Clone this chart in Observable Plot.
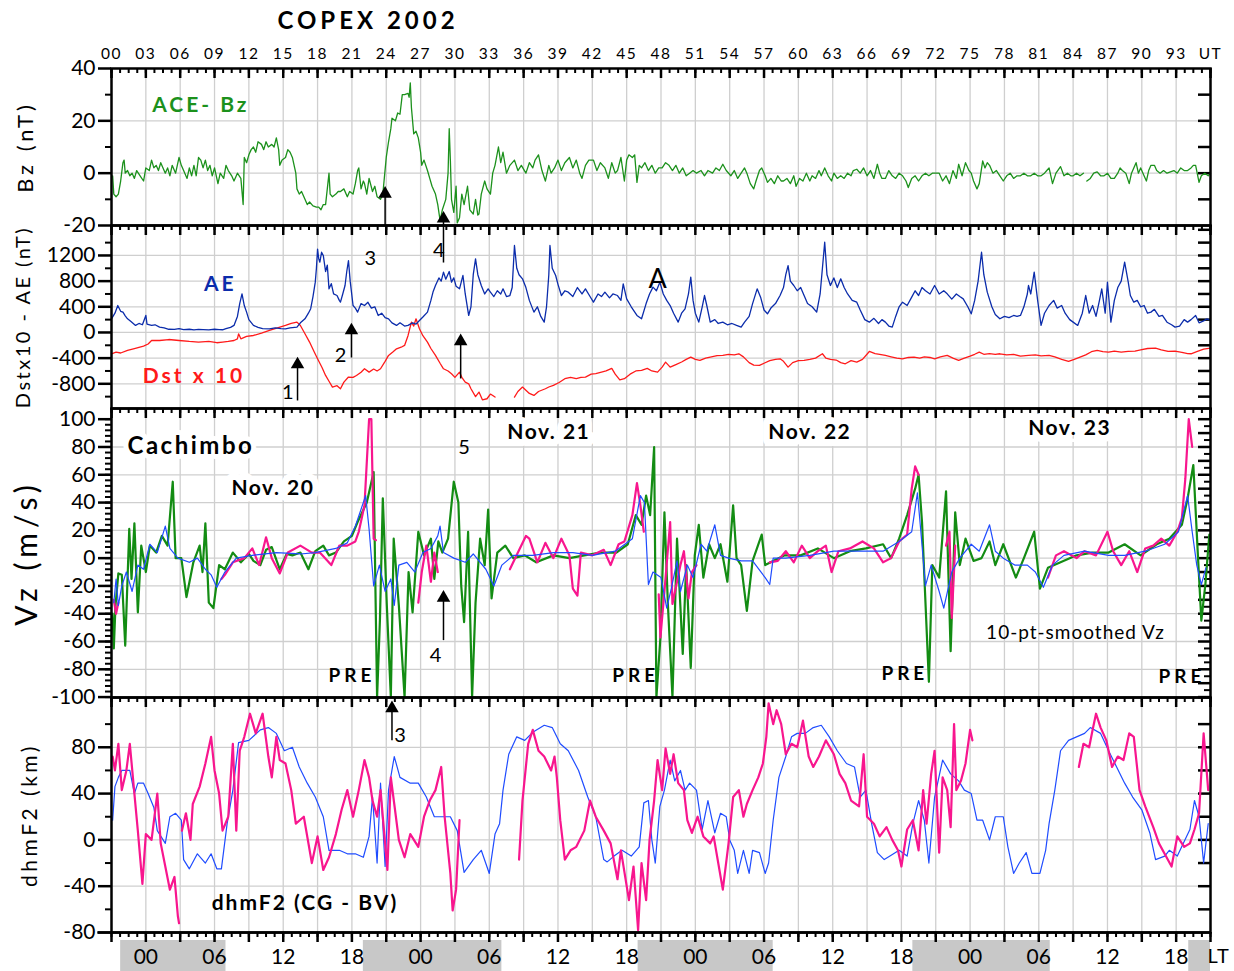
<!DOCTYPE html>
<html><head><meta charset="utf-8">
<script src="https://cdn.jsdelivr.net/npm/d3@7"></script>
<script src="https://cdn.jsdelivr.net/npm/@observablehq/plot@0.6"></script>
<style>
body{margin:0;background:#fff;font-family:Lato,sans-serif}
#wrap{position:relative;width:1234px;height:971px;overflow:hidden;background:#fff}
#title{position:absolute;left:0;top:5px;width:736px;text-align:center;font-weight:bold;font-size:24px;letter-spacing:4px;font-family:Lato,sans-serif}
</style></head><body><div id="wrap"><div id="title">COPEX 2002</div></div>
<script>
// ---------------- DATA (UT hours, value) ----------------
const bz = [[0.1,-1],[0.2,-8],[0.4,-9],[0.6,-8],[0.8,-3],[1.0,4],[1.1,5],[1.2,0],[1.4,1],[1.6,-1],[1.8,0],[2.0,-2],[2.2,1],[2.5,-1],[2.8,-3],[3.0,2],[3.3,1],[3.5,5],[3.7,2],[3.9,3],[4.1,1],[4.3,4],[4.5,2],[4.7,0],[4.9,2],[5.1,-1],[5.3,3],[5.6,0],[5.9,6],[6.1,3],[6.3,1],[6.6,-2],[6.8,2],[7.0,-1],[7.2,3],[7.4,-1],[7.6,6],[7.8,5],[8.0,2],[8.2,5],[8.4,1],[8.6,3],[8.8,-1],[9.0,2],[9.3,-4],[9.5,0],[9.8,-2],[10.0,3],[10.2,1],[10.5,-1],[10.7,-3],[11.0,0],[11.3,-2],[11.5,-12],[11.6,6],[11.8,4],[12.0,7],[12.2,9],[12.4,10],[12.6,8],[12.8,12],[13.1,11],[13.3,9],[13.5,12],[13.7,10],[14.0,11],[14.2,10],[14.4,13.5],[14.6,9],[14.7,3],[14.9,5],[15.2,6],[15.4,9],[15.6,8],[15.8,6],[16.0,2],[16.1,0],[16.2,-6],[16.4,-8],[16.6,-7],[16.9,-10],[17.1,-12],[17.3,-11],[17.6,-12.5],[17.9,-13],[18.1,-13],[18.3,-14],[18.5,-12],[18.7,-12],[18.9,-4],[19.0,0],[19.1,-8],[19.3,-9],[19.6,-8],[19.8,-7],[20.0,-7],[20.3,-6],[20.6,-9],[20.8,-7],[21.1,-8],[21.3,-4],[21.5,1],[21.6,2],[21.8,-6],[22.0,-3],[22.1,-4],[22.3,-8],[22.5,-2],[22.8,-7],[23.0,-5],[23.2,-9],[23.5,-10],[23.7,-8],[24.0,6],[24.2,12],[24.4,17],[24.5,21],[24.8,20],[25.0,23],[25.2,22.5],[25.4,30],[25.6,30],[25.9,30.5],[26.0,29],[26.1,34.5],[26.2,25],[26.4,15],[26.6,16],[26.8,13.5],[27.0,8],[27.1,3],[27.3,5],[27.6,1],[27.8,-2],[28.0,-5],[28.3,-8],[28.5,-12],[28.7,-18],[28.9,-14],[29.2,-10],[29.4,0],[29.5,17],[29.6,5],[29.7,-10],[29.9,-15],[30.1,-5],[30.2,-19],[30.4,-17],[30.6,-8],[30.8,-12],[31.1,-5],[31.3,-14],[31.6,-15.6],[31.8,-10],[32.0,-16],[32.1,-15.6],[32.3,-8],[32.6,-3],[32.8,-6],[33.1,-8],[33.3,0],[33.5,3],[33.8,10],[34.0,4],[34.2,8],[34.5,0],[34.8,3],[35.2,5],[35.5,1],[35.8,3],[36.2,0],[36.5,4],[36.8,2],[37.0,5],[37.3,7],[37.6,1],[37.9,-3],[38.2,3],[38.4,0],[38.7,2],[39.0,5],[39.3,1],[39.6,4],[40.0,6],[40.3,2],[40.6,5],[40.9,0],[41.1,-2],[41.4,3],[41.7,5],[42.1,5],[42.4,1],[42.7,4],[43.1,2],[43.4,-2],[43.7,4],[44.0,0],[44.2,1],[44.5,6],[44.8,-3],[45.0,5],[45.2,7],[45.5,6],[45.7,7],[45.9,-3.5],[46.1,3],[46.3,2],[46.6,4],[46.9,1],[47.2,3],[47.5,0],[47.8,2],[48.1,2],[48.4,4],[48.7,3],[49.0,1],[49.3,3],[49.6,0],[49.9,2],[50.2,-1],[50.5,0],[50.8,1],[51.1,0],[51.5,1],[51.8,-1],[52.1,1],[52.5,0],[52.8,2],[53.1,1],[53.4,3.4],[53.7,1],[54.1,-1],[54.4,1],[54.7,-2],[55.0,0],[55.3,2],[55.5,0],[55.8,-4],[56.1,-6],[56.3,-3],[56.6,1],[56.8,2],[57.1,-1],[57.3,-3.5],[57.6,-2],[57.9,-4],[58.2,-1],[58.5,-3],[58.7,-3],[59.0,-2],[59.3,-4],[59.6,-1],[59.8,-5],[60.1,-2],[60.4,-3],[60.7,0],[61.0,-3],[61.2,-1],[61.5,-2],[61.8,1],[62.0,-1],[62.3,2],[62.6,-1],[62.9,-3],[63.1,0],[63.4,-2],[63.7,-1],[64.0,-2],[64.3,0],[64.6,-1],[64.8,1],[65.1,1.5],[65.4,0],[65.7,2],[66.0,-1],[66.3,1],[66.6,-2],[66.9,3.4],[67.1,0],[67.3,-2],[67.6,-2],[67.9,1],[68.2,-1],[68.5,-2],[68.8,0],[69.1,-1],[69.4,-3],[69.6,-5.5],[69.9,-2],[70.2,-1],[70.5,-3],[70.8,-1],[71.1,0],[71.4,-1],[71.7,0],[72.0,0],[72.3,0],[72.6,-3],[72.9,-1],[73.2,-4],[73.5,1],[73.8,-2],[74.0,3.4],[74.3,-1],[74.6,4],[74.9,1],[75.1,0],[75.3,-3],[75.6,-6],[75.8,-4],[76.1,4.7],[76.3,2],[76.5,4],[76.7,3],[77.0,0],[77.3,1],[77.6,-1],[77.9,-3],[78.2,-1],[78.5,0],[78.8,-2],[79.1,-1],[79.4,-1],[79.7,0],[80.0,-1],[80.3,-1],[80.6,0],[80.9,-1],[81.2,-1],[81.5,0],[81.7,1],[81.9,2],[82.2,-4],[82.5,0],[82.9,2.5],[83.2,-1],[83.5,0],[83.8,-1],[84.0,-1],[84.3,0],[84.6,-1],[84.9,0],[85.0,null],[85.2,-3],[85.5,-2],[85.8,0],[86.1,0.5],[86.4,-1],[86.7,-1],[87.0,0],[87.3,-2],[87.6,-2],[87.9,0],[88.1,2],[88.3,1],[88.6,0],[88.9,-4],[89.1,0],[89.3,2],[89.5,4],[89.7,0],[89.9,2],[90.1,0],[90.4,-3],[90.6,1],[90.8,3],[91.1,3],[91.3,1],[91.6,0],[91.9,1],[92.2,0],[92.5,0.5],[92.8,1],[93.1,0],[93.4,2],[93.7,1],[94.0,1],[94.3,2],[94.5,3],[94.7,3],[95.0,-3.5],[95.2,-1],[95.5,0],[95.8,-1],[96.0,0]];

const ae = [[0.0,213],[0.3,300],[0.55,420],[0.8,330],[1.0,317],[1.2,260],[1.4,213],[1.7,170],[2.1,110],[2.4,140],[2.7,120],[3.0,265],[3.1,130],[3.5,110],[3.8,120],[4.2,83],[4.6,70],[5.0,50],[5.5,47],[5.9,60],[6.3,45],[6.8,50],[7.2,40],[7.6,47],[8.0,45],[8.5,40],[9.0,50],[9.4,45],[9.7,42],[10.0,60],[10.4,80],[10.7,110],[11.0,250],[11.2,450],[11.4,600],[11.6,420],[11.8,317],[12.0,200],[12.4,110],[12.8,80],[13.2,60],[13.8,57],[14.3,70],[14.8,60],[15.2,57],[15.6,70],[16.0,80],[16.2,83],[16.5,150],[16.9,213],[17.2,300],[17.4,370],[17.6,560],[17.8,784],[17.9,1000],[18.0,1300],[18.1,1150],[18.2,1095],[18.35,1250],[18.5,1200],[18.7,950],[18.85,1050],[19.0,680],[19.2,760],[19.4,600],[19.7,576],[19.9,500],[20.0,472],[20.2,600],[20.4,732],[20.55,950],[20.7,1121],[20.85,800],[21.1,420],[21.3,380],[21.5,317],[21.8,450],[22.1,420],[22.4,470],[22.7,380],[23.0,400],[23.3,265],[23.6,300],[23.9,230],[24.2,213],[24.5,150],[24.9,110],[25.2,150],[25.6,100],[25.9,110],[26.3,150],[26.6,130],[26.9,187],[27.2,240],[27.6,317],[27.9,500],[28.1,640],[28.3,732],[28.6,850],[28.8,800],[29.0,940],[29.2,830],[29.5,950],[29.7,784],[29.9,850],[30.1,720],[30.4,680],[30.6,820],[30.7,888],[30.9,600],[31.2,265],[31.4,400],[31.6,900],[31.8,1147],[32.0,900],[32.3,732],[32.6,600],[32.9,680],[33.1,628],[33.4,560],[33.7,650],[34.0,600],[34.2,680],[34.5,560],[34.8,576],[35.0,700],[35.2,1355],[35.4,1000],[35.6,900],[35.9,836],[36.2,700],[36.5,500],[36.9,317],[37.2,400],[37.5,250],[37.8,161],[38.0,400],[38.2,900],[38.3,1355],[38.5,1000],[38.8,888],[39.0,750],[39.3,576],[39.6,650],[39.9,628],[40.3,560],[40.7,700],[41.1,600],[41.4,680],[41.8,560],[42.1,472],[42.5,600],[42.8,560],[43.1,628],[43.5,540],[43.8,600],[44.2,576],[44.5,500],[44.7,758],[45.0,524],[45.4,400],[45.9,265],[46.3,213],[46.7,450],[47.0,600],[47.3,706],[47.6,650],[47.9,784],[48.2,600],[48.5,500],[48.8,420],[49.1,300],[49.5,161],[49.8,300],[50.1,369],[50.4,600],[50.6,862],[50.8,500],[51.0,300],[51.3,161],[51.6,400],[51.8,576],[52.0,420],[52.3,161],[52.7,200],[53.0,140],[53.4,161],[53.8,120],[54.2,140],[54.6,110],[55.0,83],[55.3,160],[55.7,250],[56.0,450],[56.4,680],[56.7,550],[57.0,350],[57.3,291],[57.6,380],[58.0,450],[58.4,576],[58.7,700],[58.9,900],[59.1,1043],[59.3,800],[59.6,732],[59.9,650],[60.2,700],[60.5,576],[60.8,450],[61.2,400],[61.6,317],[61.9,600],[62.1,1000],[62.3,1406],[62.5,900],[62.8,732],[63.1,850],[63.4,700],[63.7,836],[64.0,700],[64.3,600],[64.7,500],[65.1,472],[65.4,350],[65.8,200],[66.2,161],[66.6,220],[67.0,140],[67.3,200],[67.6,161],[67.9,100],[68.2,83],[68.5,250],[68.8,400],[69.1,472],[69.5,420],[69.9,550],[70.2,650],[70.5,576],[70.8,700],[71.1,650],[71.5,600],[71.9,732],[72.3,600],[72.7,650],[73.0,602],[73.4,520],[73.8,600],[74.1,560],[74.4,524],[74.8,400],[75.1,291],[75.4,500],[75.7,800],[76.0,1250],[76.2,900],[76.5,628],[76.9,400],[77.2,280],[77.6,213],[78.0,250],[78.4,230],[78.8,265],[79.1,250],[79.4,265],[79.7,400],[80.0,600],[80.1,732],[80.3,600],[80.6,940],[80.9,500],[81.2,110],[81.5,300],[81.9,420],[82.3,500],[82.6,380],[83.0,420],[83.3,300],[83.7,200],[84.0,161],[84.4,110],[84.8,300],[85.1,576],[85.4,300],[85.7,420],[86.0,250],[86.3,500],[86.5,680],[86.8,300],[87.0,784],[87.3,161],[87.6,500],[87.9,700],[88.2,800],[88.5,1095],[88.8,800],[89.0,576],[89.3,472],[89.6,500],[89.9,400],[90.2,420],[90.5,300],[90.8,317],[91.1,360],[91.5,250],[91.8,265],[92.2,160],[92.6,120],[92.9,83],[93.3,100],[93.7,200],[94.0,161],[94.3,200],[94.7,265],[95.0,150],[95.4,180],[95.7,213],[96.0,187]];

const dstx10 = [[0.0,-332],[0.4,-306],[0.8,-320],[1.4,-280],[2.0,-250],[2.8,-213],[3.2,-180],[3.5,-125],[4.2,-125],[5.0,-110],[5.9,-125],[6.8,-140],[7.6,-150],[8.5,-140],[9.2,-160],[9.7,-150],[10.2,-140],[10.7,-125],[11.0,-100],[11.1,-21],[11.3,-99],[11.8,-60],[12.4,-47],[13.1,-10],[13.8,31],[14.5,70],[15.2,109],[15.7,140],[16.2,161],[16.5,109],[16.9,-20],[17.3,-150],[17.7,-300],[18.0,-410],[18.4,-550],[18.7,-670],[19.0,-760],[19.3,-851],[19.7,-830],[20.0,-877],[20.3,-774],[20.7,-695],[21.1,-700],[21.4,-670],[21.8,-620],[22.1,-566],[22.5,-618],[22.9,-570],[23.2,-600],[23.5,-566],[23.9,-450],[24.2,-358],[24.6,-300],[24.9,-254],[25.3,-230],[25.6,-202],[25.9,-50],[26.2,161],[26.4,100],[26.6,213],[26.9,57],[27.2,-50],[27.6,-150],[27.9,-250],[28.3,-358],[28.7,-480],[29.0,-566],[29.4,-600],[29.7,-644],[30.0,-700],[30.4,-618],[30.6,-700],[30.9,-774],[31.2,-800],[31.4,-877],[31.8,-1000],[32.1,-929],[32.4,-1050],[32.8,-1033],[33.1,-960],[33.5,-1007],[33.7,null],[35.2,-1007],[35.5,-920],[35.9,-851],[36.2,-900],[36.5,-950],[36.9,-981],[37.3,-920],[37.9,-877],[38.2,-850],[38.6,-825],[39.1,-780],[39.6,-721],[40.1,-700],[40.6,-720],[41.0,-700],[41.4,-695],[41.9,-650],[42.3,-640],[42.8,-618],[43.2,-600],[43.7,-560],[44.0,-650],[44.4,-740],[44.8,-721],[45.3,-650],[45.8,-600],[46.3,-592],[46.8,-560],[47.2,-600],[47.7,-618],[48.1,-540],[48.4,-462],[48.8,-540],[49.3,-500],[49.8,-460],[50.2,-420],[50.6,-384],[51.0,-420],[51.4,-436],[51.9,-400],[52.4,-380],[52.9,-360],[53.4,-358],[53.9,-340],[54.4,-350],[54.8,-332],[55.2,-380],[55.7,-470],[56.1,-510],[56.6,-514],[57.0,-480],[57.5,-440],[58.0,-420],[58.4,-410],[58.7,-450],[59.1,-540],[59.5,-470],[60.0,-440],[60.5,-436],[61.0,-420],[61.5,-400],[62.1,-332],[62.4,-400],[62.8,-420],[63.3,-430],[63.7,-470],[64.1,-488],[64.6,-440],[65.1,-462],[65.6,-420],[66.2,-296],[66.7,-330],[67.1,-340],[67.6,-358],[68.1,-380],[68.6,-400],[69.1,-410],[69.6,-390],[70.1,-384],[70.6,-400],[71.0,-380],[71.5,-390],[71.9,-410],[72.4,-380],[73.0,-358],[73.5,-400],[74.0,-436],[74.5,-400],[75.0,-370],[75.4,-340],[75.8,-306],[76.2,-340],[76.7,-330],[77.2,-340],[77.6,-332],[78.2,-350],[78.8,-340],[79.4,-370],[80.1,-358],[80.7,-350],[81.2,-365],[81.9,-358],[82.4,-380],[83.0,-420],[83.6,-452],[84.1,-420],[84.6,-384],[85.1,-350],[85.6,-300],[86.1,-280],[86.6,-300],[87.1,-306],[87.6,-290],[88.2,-306],[88.8,-296],[89.4,-290],[89.9,-270],[90.5,-250],[91.2,-244],[91.7,-270],[92.3,-296],[92.9,-290],[93.5,-310],[94.0,-330],[94.3,-332],[94.8,-300],[95.4,-260],[96.0,-244]];

const vzGreen = [[0.1,-40],[0.2,-65],[0.35,-34],[0.6,-11],[0.9,-12],[1.2,-63],[1.55,21],[1.75,-15],[2.0,25],[2.3,-39],[2.6,9],[3.0,-10],[3.35,9],[3.9,4],[4.4,16],[4.9,9],[5.35,55],[5.6,0],[6.1,0],[6.55,-28],[7.15,-3],[7.7,9],[7.95,-10],[8.2,25],[8.5,-32],[8.9,-36],[9.4,-5],[9.9,-8],[10.6,4],[11.3,-3],[12.0,3],[12.4,-2],[13.0,-5],[13.5,6],[14.0,8],[14.7,-8],[15.3,3],[15.8,2],[16.5,4],[17.2,-8],[17.8,5],[18.5,9],[19.0,2],[19.6,4],[20.3,12],[21.0,16],[21.5,26],[22.3,40],[22.9,62],[23.2,-100],[23.45,-44],[23.7,43],[24.05,-34],[24.4,-100],[24.65,14],[25.1,-34],[25.6,-100],[25.95,-10],[26.3,-39],[26.8,19],[27.3,2],[27.9,14],[28.2,-15],[28.55,12],[28.9,4],[29.4,14],[29.9,55],[30.3,40],[30.55,-20],[30.8,-46],[31.15,19],[31.5,-100],[31.8,-32],[32.2,14],[32.6,-5],[32.9,35],[33.2,-29],[33.7,4],[34.4,9],[35.1,0],[36.1,2],[37.1,-3],[38.6,2],[40.0,0],[41.3,2],[42.7,4],[44.1,4],[45.1,10],[45.8,31],[46.3,24],[46.7,45],[47.05,31],[47.4,80],[47.6,-100],[47.95,-57],[48.3,33],[48.6,-33],[49.0,-100],[49.4,14],[49.9,-69],[50.2,-5],[50.6,-79],[50.95,2],[51.3,24],[51.7,-14],[52.2,10],[52.7,0],[53.2,10],[53.8,-17],[54.3,38],[54.6,0],[55.0,-5],[55.5,-38],[56.0,-2],[56.8,17],[57.1,-5],[57.8,-2],[58.8,2],[60.2,2],[61.7,7],[63.1,0],[64.5,5],[65.9,7],[67.4,10],[68.1,0],[68.8,14],[69.5,31],[70.2,50],[70.5,60],[70.8,26],[71.4,-89],[71.7,-5],[72.3,-14],[72.9,48],[73.3,-67],[73.7,33],[74.1,-5],[74.6,14],[75.3,-2],[76.0,0],[76.7,12],[77.2,-5],[77.9,10],[79.0,-14],[79.7,0],[80.6,19],[81.1,-22],[81.8,-7],[82.9,-3],[84.3,2],[85.7,4],[87.1,4],[88.5,10],[89.9,2],[91.3,10],[92.4,14],[93.5,24],[94.0,43],[94.5,67],[94.9,2],[95.2,-45],[95.55,-19],[95.9,17]];

const vzPink = [[0.2,-30],[0.4,-40],[0.6,-32],[0.7,null],[9.6,-15],[9.9,-12],[10.6,-3],[11.6,0],[12.3,7],[12.9,-5],[13.5,15],[14.0,0],[14.7,-11],[15.4,4],[16.5,9],[17.5,4],[18.2,4],[19.2,-5],[19.9,9],[20.6,9],[21.3,12],[21.6,19],[22.1,38],[22.5,100],[22.7,100],[22.9,14],[23.1,13],[23.2,null],[26.8,-32],[27.1,-10],[27.5,9],[27.9,-17],[28.2,4],[28.5,-10],[28.7,null],[34.8,-8],[35.5,4],[36.2,16],[36.5,14],[37.2,-3],[37.9,11],[38.6,0],[39.3,14],[40.0,2],[40.3,-22],[40.7,-27],[41.0,4],[42.0,2],[43.0,6],[43.6,-5],[44.3,10],[44.8,12],[45.5,31],[45.9,54],[46.2,38],[46.5,19],[46.6,null],[47.8,-26],[47.95,-57],[48.3,-24],[48.8,26],[49.0,-33],[49.7,-5],[50.0,5],[50.4,-29],[50.7,-10],[51.1,-5],[51.2,null],[57.5,-3],[58.2,-2],[58.9,5],[59.6,-3],[60.3,9],[61.0,0],[61.7,5],[62.4,9],[62.9,-10],[63.5,5],[64.5,7],[65.6,12],[66.6,7],[67.4,-3],[68.1,0],[68.8,12],[69.5,17],[69.9,50],[70.2,66],[70.5,60],[70.6,null],[72.9,9],[73.2,19],[73.4,-43],[73.7,9],[73.8,null],[81.8,-14],[82.5,2],[83.2,5],[84.3,0],[85.0,5],[86.0,2],[87.0,19],[87.5,5],[88.2,-5],[88.9,5],[89.6,-10],[90.3,7],[91.0,9],[91.7,14],[92.4,9],[93.1,19],[93.5,29],[93.8,57],[94.1,100],[94.4,80]];

const vzSmooth = [[0.2,-32],[0.4,-15],[0.6,-34],[0.9,-20],[1.3,-10],[1.8,-24],[2.3,-5],[2.8,-8],[3.35,10],[4.0,4],[4.7,23],[5.1,7],[5.8,0],[6.8,-3],[7.5,0],[8.2,-8],[8.7,-12],[9.2,-21],[9.9,-10],[10.9,0],[12.3,2],[14.4,4],[16.5,3],[17.8,4],[19.6,7],[20.6,11],[21.3,23],[22.2,45],[22.5,21],[22.9,-20],[23.4,-5],[23.9,-24],[24.4,-15],[24.7,-34],[25.1,-5],[25.8,-3],[26.5,-10],[27.2,4],[27.9,7],[28.5,16],[28.7,23],[29.0,4],[29.9,0],[30.9,-3],[31.6,3],[32.7,-8],[33.4,-20],[34.1,-5],[35.1,2],[36.8,2],[38.6,4],[40.3,4],[42.0,2],[44.0,5],[45.5,14],[46.2,45],[46.55,40],[46.9,-19],[47.3,-10],[48.0,-14],[48.5,-36],[48.9,-22],[49.4,-2],[49.7,-24],[50.3,-5],[50.8,-14],[51.5,10],[52.0,5],[52.7,24],[53.2,2],[53.9,0],[55.0,-2],[56.0,-2],[57.1,-14],[57.5,-19],[57.8,0],[58.9,0],[61.0,2],[63.1,5],[65.2,5],[67.4,5],[68.8,12],[69.9,19],[70.4,47],[70.7,19],[71.1,-20],[71.6,-5],[72.3,-24],[72.7,-36],[73.4,-10],[74.1,0],[75.1,10],[75.8,5],[76.7,24],[77.2,5],[77.9,0],[78.9,-5],[80.0,-5],[80.7,-10],[81.4,-21],[82.2,-5],[83.2,2],[85.0,5],[87.1,2],[88.5,2],[90.3,5],[92.0,10],[93.2,19],[94.0,45],[94.4,19],[94.8,-5],[95.2,-19],[95.6,-7]];

const dhmBlue = [[0.1,17],[0.3,46],[0.6,54],[0.9,60],[1.6,60],[2.0,40],[2.3,49],[2.8,49],[3.2,40],[3.7,28],[4.0,8],[4.7,-3],[5.1,20],[5.6,23],[6.1,17],[6.3,-17],[6.8,-25],[7.5,-12],[8.2,-20],[8.7,-12],[9.2,-25],[9.6,-25],[10.1,14],[10.6,43],[11.1,84],[12.0,86],[13.0,95],[13.7,97],[14.4,92],[15.1,77],[15.8,80],[16.4,63],[17.1,49],[17.8,37],[18.5,20],[19.0,-9],[19.9,-9],[20.6,-12],[21.3,-12],[22.0,-15],[22.5,3],[22.8,37],[23.2,-20],[23.5,49],[23.9,-23],[24.2,43],[24.7,72],[25.2,54],[26.1,49],[26.8,49],[27.5,37],[28.2,20],[28.9,20],[29.6,20],[30.2,8],[30.8,-28],[31.6,-17],[32.3,-9],[33.0,-29],[33.5,5],[33.9,14],[34.2,43],[34.7,74],[35.4,89],[36.1,86],[36.8,93],[37.8,99],[38.5,97],[39.2,83],[39.9,77],[40.8,60],[41.6,37],[42.3,20],[43.0,-17],[43.3,-19],[43.9,-14],[44.6,-9],[45.4,-14],[46.1,-6],[46.5,32],[46.9,34],[47.2,0],[47.5,-20],[47.9,29],[48.3,43],[48.8,69],[49.2,51],[49.7,60],[50.1,43],[50.5,49],[51.1,43],[51.6,9],[52.1,34],[52.7,6],[53.2,23],[53.7,20],[54.0,0],[54.4,-9],[54.7,-29],[55.2,-9],[55.7,-29],[56.0,-9],[56.6,-11],[57.1,-29],[57.4,-20],[57.8,17],[58.3,54],[58.9,72],[59.4,89],[59.9,92],[60.6,92],[61.3,97],[62.0,99],[62.7,89],[63.4,77],[64.2,66],[64.9,63],[65.4,37],[65.9,43],[66.4,14],[66.9,-11],[67.5,-17],[68.0,-14],[68.8,-9],[69.5,-14],[70.0,14],[70.5,34],[71.0,17],[71.4,-20],[71.9,37],[72.6,69],[73.3,57],[74.0,51],[74.5,43],[75.1,40],[75.6,17],[76.1,17],[76.7,0],[77.2,20],[77.9,20],[78.3,-6],[78.8,-29],[79.3,-20],[79.9,-11],[80.4,-29],[81.1,-29],[81.6,-9],[81.9,14],[82.4,43],[82.9,77],[83.6,86],[84.3,89],[85.0,92],[85.5,97],[86.4,92],[87.1,77],[87.8,63],[88.5,49],[89.2,37],[90.0,26],[90.7,6],[91.2,-17],[92.0,-14],[92.4,-9],[93.1,-14],[94.2,9],[94.6,34],[95.0,20],[95.4,-20],[95.8,14]];

const dhmPink = [[0.1,72],[0.3,60],[0.6,83],[0.9,43],[1.3,60],[1.6,83],[2.0,40],[2.3,8],[2.7,-38],[3.0,5],[3.5,0],[4.0,40],[4.3,-3],[4.7,-23],[5.1,-43],[5.5,-32],[5.8,-66],[5.9,-72],[6.1,null],[6.15,8],[6.5,23],[6.9,0],[7.1,31],[7.7,46],[8.2,66],[8.7,89],[9.0,60],[9.4,40],[9.7,8],[10.2,20],[10.6,83],[10.9,8],[11.2,77],[11.6,89],[12.1,109],[12.6,92],[13.2,109],[13.7,72],[14.0,54],[14.4,89],[14.7,69],[15.2,66],[15.7,43],[16.1,14],[16.8,20],[17.5,-20],[18.0,3],[18.5,-26],[19.0,-15],[19.6,5],[20.1,26],[20.6,43],[21.1,20],[21.6,43],[22.1,69],[22.5,54],[22.8,34],[23.2,20],[23.5,43],[23.9,-3],[24.1,-26],[24.4,54],[24.7,31],[25.1,0],[25.6,-15],[26.1,5],[26.8,-6],[27.3,20],[27.8,34],[28.3,43],[28.8,63],[29.1,20],[29.6,-29],[29.8,-61],[30.1,-43],[30.4,17],[30.5,null],[35.6,-17],[35.9,34],[36.4,83],[36.8,95],[37.3,77],[37.8,72],[38.4,60],[38.7,72],[38.9,54],[39.2,17],[39.6,-17],[40.1,-9],[40.6,-6],[41.3,8],[41.8,34],[42.3,20],[43.0,8],[43.6,-3],[44.2,-34],[44.5,-9],[45.2,-52],[45.6,-23],[46.0,-78],[46.3,-20],[46.7,-52],[47.0,0],[47.4,34],[47.7,69],[48.1,43],[48.4,79],[48.8,57],[49.1,74],[49.5,49],[50.0,43],[50.3,17],[50.7,6],[51.2,20],[51.7,3],[52.3,-3],[52.6,3],[53.0,-20],[53.4,-43],[53.9,-3],[54.3,37],[54.8,43],[55.2,20],[55.5,31],[56.0,43],[56.5,54],[56.9,66],[57.2,89],[57.4,118],[57.8,100],[58.1,112],[58.5,100],[58.9,74],[59.4,83],[59.9,80],[60.4,103],[60.9,72],[61.3,63],[61.8,72],[62.4,86],[63.1,74],[63.6,57],[64.1,49],[64.6,34],[65.3,29],[65.7,74],[66.0,20],[66.6,14],[67.1,3],[67.7,11],[68.2,0],[68.7,-9],[69.0,-23],[69.5,9],[70.0,17],[70.5,-9],[70.9,43],[71.2,14],[71.6,57],[71.9,77],[72.3,-11],[72.6,54],[73.0,43],[73.3,11],[73.6,100],[73.8,43],[74.2,51],[74.6,66],[75.0,95],[75.2,86],[75.3,null],[84.5,63],[84.9,83],[85.4,80],[85.7,95],[86.0,109],[86.4,97],[86.9,86],[87.4,63],[87.9,72],[88.4,69],[88.9,92],[89.3,89],[89.8,43],[90.3,29],[91.0,11],[91.5,-3],[92.1,-14],[92.6,-23],[93.1,3],[93.7,-6],[94.2,-3],[94.6,9],[95.0,23],[95.4,92],[95.8,43]];

// night (gray) bands in UT hours
const nightStart = [0.8, 22, 46, 70, 94.1];
const nightEnd   = [10, 34.1, 57.8, 82, 96];

// tick labels
const utTicks = d3.range(0, 97, 3);              // 00 03 ... 93 UT
const utMinor = d3.range(0, 96.01, 0.75);
const ltLabelUT = d3.range(3, 96, 6);            // LT 00,06,12,18 at UT-3
const bzTicks = [-20, 0, 20, 40];
const aeTicks = [-800, -400, 0, 400, 800, 1200];
const vzTicks = [-100, -80, -60, -40, -20, 0, 20, 40, 60, 80, 100];
const dhmTicks = [-80, -40, 0, 40, 80];

// ---------------- helpers ----------------
const W = 1234, ML = 111, MR = 24, FW = W - ML - MR;
const wrap = document.getElementById("wrap");
const pad2 = d => String(d).padStart(2, "0");
const gridC = "#cfcfcf";
const toObj = arr => arr.map(([t, v]) => ({t, v}));

function place(svg, top) {
  svg.style.position = "absolute";
  svg.style.top = top + "px";
  svg.style.left = "0px";
  wrap.appendChild(svg);
  return svg;
}
function frameMarks(fh, yGrid, rightTicks, rightMinor) {
  return [
    Plot.gridX(utTicks.filter(d => d > 0 && d < 96), {stroke: gridC, strokeOpacity: 1, strokeWidth: 1.3}),
    Plot.gridY(yGrid, {stroke: gridC, strokeOpacity: 1, strokeWidth: 1.3}),
    Plot.tickX(utTicks, {x: d => d, insetBottom: fh - 10, strokeWidth: 2.5}),
    Plot.tickX(utMinor, {x: d => d, insetBottom: fh - 5, strokeWidth: 2}),
    Plot.tickY(rightTicks, {y: d => d, insetLeft: FW - 12, strokeWidth: 2.5}),
    Plot.tickY(rightMinor, {y: d => d, insetLeft: FW - 6, strokeWidth: 2})
  ];
}
function leftAxis(ticks, minor, fs = 21) {
  return [
    Plot.axisY(ticks, {anchor: "left", tickSize: 13, tickPadding: 3, strokeWidth: 2.5, fontSize: fs, tickFormat: d => String(d)}),
    Plot.axisY(minor, {anchor: "left", tickSize: 6, strokeWidth: 2, tickFormat: () => ""})
  ];
}
function arrowMarks(list) {
  return [
    Plot.link(list, {x1: "x", x2: "x", y1: "y1", y2: "y2", stroke: "black", strokeWidth: 1.5}),
    Plot.dot(list.filter(d => d.head !== false), {x: "x", y: "y2", symbol: "triangle", r: 5, fill: "black", stroke: null, dy: 5})
  ];
}
// rotated y-axis title, centred on the panel's frame
function yTitle(txt, off, fs) {
  return Plot.text([txt], {frameAnchor: "left", textAnchor: "middle", rotate: -90, dx: -off, fontSize: fs, fill: "black"});
}
const base = (mt, fh, mb, domain) => ({
  width: W, height: mt + fh + mb, marginLeft: ML, marginRight: MR, marginTop: mt, marginBottom: mb,
  style: {background: "transparent", overflow: "visible", fontFamily: "Lato, sans-serif", color: "black"},
  x: {domain: [0, 96], axis: null}, y: {domain, axis: null}
});

// ---------------- Panel 1: ACE Bz ----------------
{
  const fh = 157;
  const svg = Plot.plot({...base(68, fh, 0, [-20, 40]), marks: [
    ...frameMarks(fh, [0, 20], [-10, 0, 10, 20, 30], []),
    Plot.axisX(utTicks, {anchor: "top", tickSize: 0, tickPadding: 10, fontSize: 15.5, tickFormat: d => d === 96 ? "UT" : pad2(d)}),
    ...leftAxis(bzTicks, [-10, 10, 30]),
    Plot.line(toObj(bz), {x: "t", y: "v", stroke: "#1c911c", strokeWidth: 1.3}),
    Plot.text(["ACE- Bz"], {x: 7.8, y: 26, fontSize: 21, fontWeight: "bold", fill: "#1c911c"}),
    ...arrowMarks([{x: 23.9, y1: -20, y2: -6}, {x: 29.0, y1: -20, y2: -15.5}]),
    yTitle("Bz (nT)", 86, 22),
    Plot.frame({stroke: "black", strokeWidth: 2.5})
  ]});
  place(svg, 0);
}
// ---------------- Panel 2: AE and Dst x10 ----------------
{
  const fh = 183;
  const svg = Plot.plot({...base(5, fh, 0, [-1185, 1667]), marks: [
    ...frameMarks(fh, aeTicks, [-1000,-800,-600,-400,-200,0,200,400,600,800,1000,1200,1400,1600], []),
    ...leftAxis(aeTicks, [-1000, -600, -200, 200, 600, 1000, 1400]),
    Plot.line(toObj(dstx10), {x: "t", y: "v", stroke: "#ff1a1a", strokeWidth: 1.3}),
    Plot.line(toObj(ae), {x: "t", y: "v", stroke: "#0b2cab", strokeWidth: 1.3}),
    Plot.text(["AE"], {x: 9.5, y: 748, fontSize: 21, fontWeight: "bold", fill: "#0b2cab"}),
    Plot.text(["Dst x 10"], {x: 7.2, y: -690, fontSize: 21, fontWeight: "bold", fill: "#ff1a1a"}),
    Plot.text([{x: 22.6, y: 1150, s: "3"}, {x: 28.6, y: 1280, s: "4"}, {x: 15.4, y: -935, s: "1"}, {x: 20.0, y: -360, s: "2"}],
      {x: "x", y: "y", text: "s", fontSize: 20, fill: "black"}),
    Plot.text(["A"], {x: 47.7, y: 820, fontSize: 27, fill: "black"}),
    ...arrowMarks([{x: 16.25, y1: -1060, y2: -420}, {x: 20.96, y1: -390, y2: 110}, {x: 30.5, y1: -717, y2: -60}, {x: 29.0, y1: 1090, y2: 1667, head: false}]),
    yTitle("Dstx10 - AE (nT)", 88, 20),
    Plot.frame({stroke: "black", strokeWidth: 2.5})
  ]});
  place(svg, 220);
}
// ---------------- Panel 3: Vz ----------------
{
  const fh = 289;
  const vzR = d3.range(-100, 101, 10), vzR5 = d3.range(-95, 101, 10);
  const svg = Plot.plot({...base(8, fh, 0, [-100.3, 107.7]), marks: [
    ...frameMarks(fh, vzTicks.filter(d => d > -100 && d < 100), vzR, vzR5),
    ...leftAxis(vzTicks, d3.range(-100, 101, 4)),
    Plot.text(["Nov. 21", "Nov. 22", "Nov. 23"], {x: [38.2, 61.0, 83.7], y: [90.4, 90.4, 93.3], fontSize: 21, fontWeight: "bold", fill: "black", stroke: "white", strokeWidth: 14}),
    Plot.text(["Cachimbo"], {x: 1.4, y: 80.4, textAnchor: "start", fontSize: 24, fontWeight: "bold", fill: "black", stroke: "white", strokeWidth: 10}),
    Plot.text(["Nov. 20"], {x: 14.1, y: 50, fontSize: 21, fontWeight: "bold", fill: "black", stroke: "white", strokeWidth: 14}),
    Plot.line(toObj(vzGreen), {x: "t", y: "v", stroke: "#138c13", strokeWidth: 2.2, clip: true}),
    Plot.line(toObj(vzPink), {x: "t", y: "v", stroke: "#f8168e", strokeWidth: 2.2, clip: true}),
    Plot.line(toObj(vzSmooth), {x: "t", y: "v", stroke: "#1f4cff", strokeWidth: 1.2, clip: true}),
    Plot.text(["PRE", "PRE", "PRE", "PRE"], {x: [21.0, 45.8, 69.3, 93.5], y: [-85, -84.4, -83, -85.8], fontSize: 19, fontWeight: "bold", fill: "black"}),
    Plot.text(["10-pt-smoothed Vz"], {x: 84.2, y: -54, fontSize: 19, fill: "black"}),
    Plot.text([{x: 30.8, y: 79.6, s: "5"}, {x: 28.3, y: -70, s: "4"}], {x: "x", y: "y", text: "s", fontSize: 20, fill: "black"}),
    ...arrowMarks([{x: 29.0, y1: -59, y2: -25}]),
    yTitle("Vz (m/s)", 84, 30),
    Plot.frame({stroke: "black", strokeWidth: 2.5})
  ]});
  place(svg, 400);
}
// ---------------- Panel 4: dhmF2 ----------------
{
  const fh = 235;
  const svg = Plot.plot({...base(7, fh, 0, [-80, 123]), marks: [
    ...frameMarks(fh, [-40, 0, 40, 80], [-60, -40, -20, 0, 20, 40, 60, 80, 100], []),
    ...leftAxis(dhmTicks, [-60, -20, 20, 60, 100]),
    Plot.line(toObj(dhmBlue), {x: "t", y: "v", stroke: "#1f4cff", strokeWidth: 1.2}),
    Plot.line(toObj(dhmPink), {x: "t", y: "v", stroke: "#f8168e", strokeWidth: 2.2}),
    Plot.text(["dhmF2 (CG - BV)"], {x: 16.9, y: -55, fontSize: 21, fontWeight: "bold", fill: "black"}),
    Plot.text(["3"], {x: 25.2, y: 90, fontSize: 20, fill: "black"}),
    ...arrowMarks([{x: 24.5, y1: 86, y2: 118}]),
    yTitle("dhmF2 (km)", 81, 21),
    Plot.frame({stroke: "black", strokeWidth: 2.5})
  ]});
  place(svg, 690);
}
// ---------------- LT strip ----------------
{
  const nights = nightStart.map((s, i) => ({s, e: nightEnd[i]}));
  const svg = Plot.plot({...base(0, 39, 0, [0, 1]), marks: [
    Plot.rect(nights, {x1: "s", x2: "e", insetTop: 8, fill: "#c8c8c8"}),
    Plot.tickX(utTicks, {x: d => d, insetBottom: 29, strokeWidth: 2.5}),
    Plot.tickX(utMinor, {x: d => d, insetBottom: 34, strokeWidth: 2}),
    Plot.ruleY([1], {x1: -1.2, x2: 96, stroke: "black", strokeWidth: 2.5}),
    Plot.text(ltLabelUT, {x: d => d, text: d => pad2(((d - 3) % 24 + 24) % 24), fontSize: 21, dy: 5, fill: "black"}),
    Plot.text(["LT"], {x: [96], textAnchor: "start", dx: -3, fontSize: 20, dy: 5, fill: "black"})
  ]});
  place(svg, 932);
}
// ---------------- letter spacing (post) ----------------
const spacing = {"ACE- Bz": "3px", "AE": "3px", "Dst x 10": "3px", "Cachimbo": "2.5px", "PRE": "4px",
  "dhmF2 (CG - BV)": "2px", "10-pt-smoothed Vz": "1px", "Bz (nT)": "4px", "Dstx10 - AE (nT)": "2.5px",
  "Vz (m/s)": "5px", "dhmF2 (km)": "3.5px", "Nov. 20": "1.5px", "Nov. 21": "1.5px", "Nov. 22": "1.5px", "Nov. 23": "1.5px", "LT": "1px"};
wrap.querySelectorAll("text").forEach(t => {
  const s = spacing[t.textContent];
  if (s) t.setAttribute("letter-spacing", s);
});
wrap.querySelectorAll('g[aria-label="x-axis tick label"] text').forEach(t => t.setAttribute("letter-spacing", "1.5px"));
</script></body></html>
